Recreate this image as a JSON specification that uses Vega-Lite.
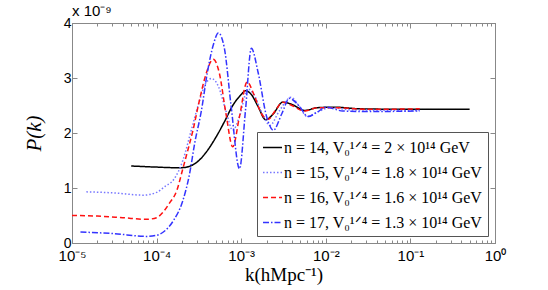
{
  "$schema": "https://vega.github.io/schema/vega-lite/v6.json",
  "width": 423,
  "height": 220,
  "autosize": "none",
  "padding": {"left": 72, "top": 23, "right": 53, "bottom": 47},
  "background": "white",
  "title": {"text": "x 10⁻⁹", "anchor": "start", "frame": "group", "fontSize": 15, "font": "Liberation Sans", "fontWeight": "normal", "offset": 0, "dy": 18, "color": "black", "baseline": "bottom"},
  "config": {
    "view": {"stroke": "#888888", "strokeWidth": 1},
    "axis": {"domainColor": "#888888", "tickColor": "#888888", "labelColor": "black", "labelFont": "Liberation Sans", "grid": false, "labelFlush": false}
  },
  "data": {"values": [
    {"k": 5.01e-5, "P": 1.40, "s": "n = 14, V₀¹ᐟ⁴ = 2 × 10¹⁴ GeV"},
    {"k": 1e-4, "P": 1.38, "s": "n = 14, V₀¹ᐟ⁴ = 2 × 10¹⁴ GeV"},
    {"k": 1.585e-4, "P": 1.37, "s": "n = 14, V₀¹ᐟ⁴ = 2 × 10¹⁴ GeV"},
    {"k": 1.995e-4, "P": 1.37, "s": "n = 14, V₀¹ᐟ⁴ = 2 × 10¹⁴ GeV"},
    {"k": 2.512e-4, "P": 1.40, "s": "n = 14, V₀¹ᐟ⁴ = 2 × 10¹⁴ GeV"},
    {"k": 3.162e-4, "P": 1.50, "s": "n = 14, V₀¹ᐟ⁴ = 2 × 10¹⁴ GeV"},
    {"k": 3.981e-4, "P": 1.68, "s": "n = 14, V₀¹ᐟ⁴ = 2 × 10¹⁴ GeV"},
    {"k": 5.012e-4, "P": 1.92, "s": "n = 14, V₀¹ᐟ⁴ = 2 × 10¹⁴ GeV"},
    {"k": 6.31e-4, "P": 2.20, "s": "n = 14, V₀¹ᐟ⁴ = 2 × 10¹⁴ GeV"},
    {"k": 7.943e-4, "P": 2.50, "s": "n = 14, V₀¹ᐟ⁴ = 2 × 10¹⁴ GeV"},
    {"k": 1e-3, "P": 2.70, "s": "n = 14, V₀¹ᐟ⁴ = 2 × 10¹⁴ GeV"},
    {"k": 1.122e-3, "P": 2.77, "s": "n = 14, V₀¹ᐟ⁴ = 2 × 10¹⁴ GeV"},
    {"k": 1.318e-3, "P": 2.70, "s": "n = 14, V₀¹ᐟ⁴ = 2 × 10¹⁴ GeV"},
    {"k": 1.585e-3, "P": 2.48, "s": "n = 14, V₀¹ᐟ⁴ = 2 × 10¹⁴ GeV"},
    {"k": 1.95e-3, "P": 2.24, "s": "n = 14, V₀¹ᐟ⁴ = 2 × 10¹⁴ GeV"},
    {"k": 2.399e-3, "P": 2.35, "s": "n = 14, V₀¹ᐟ⁴ = 2 × 10¹⁴ GeV"},
    {"k": 3.09e-3, "P": 2.56, "s": "n = 14, V₀¹ᐟ⁴ = 2 × 10¹⁴ GeV"},
    {"k": 3.981e-3, "P": 2.52, "s": "n = 14, V₀¹ᐟ⁴ = 2 × 10¹⁴ GeV"},
    {"k": 5.623e-3, "P": 2.41, "s": "n = 14, V₀¹ᐟ⁴ = 2 × 10¹⁴ GeV"},
    {"k": 7.943e-3, "P": 2.46, "s": "n = 14, V₀¹ᐟ⁴ = 2 × 10¹⁴ GeV"},
    {"k": 1.259e-2, "P": 2.47, "s": "n = 14, V₀¹ᐟ⁴ = 2 × 10¹⁴ GeV"},
    {"k": 2.512e-2, "P": 2.44, "s": "n = 14, V₀¹ᐟ⁴ = 2 × 10¹⁴ GeV"},
    {"k": 0.1, "P": 2.43, "s": "n = 14, V₀¹ᐟ⁴ = 2 × 10¹⁴ GeV"},
    {"k": 0.5012, "P": 2.43, "s": "n = 14, V₀¹ᐟ⁴ = 2 × 10¹⁴ GeV"},

    {"k": 1.479e-5, "P": 0.93, "s": "n = 15, V₀¹ᐟ⁴ = 1.8 × 10¹⁴ GeV"},
    {"k": 3.162e-5, "P": 0.91, "s": "n = 15, V₀¹ᐟ⁴ = 1.8 × 10¹⁴ GeV"},
    {"k": 6.918e-5, "P": 0.87, "s": "n = 15, V₀¹ᐟ⁴ = 1.8 × 10¹⁴ GeV"},
    {"k": 1e-4, "P": 0.92, "s": "n = 15, V₀¹ᐟ⁴ = 1.8 × 10¹⁴ GeV"},
    {"k": 1.259e-4, "P": 1.03, "s": "n = 15, V₀¹ᐟ⁴ = 1.8 × 10¹⁴ GeV"},
    {"k": 1.585e-4, "P": 1.15, "s": "n = 15, V₀¹ᐟ⁴ = 1.8 × 10¹⁴ GeV"},
    {"k": 2.042e-4, "P": 1.50, "s": "n = 15, V₀¹ᐟ⁴ = 1.8 × 10¹⁴ GeV"},
    {"k": 2.57e-4, "P": 2.05, "s": "n = 15, V₀¹ᐟ⁴ = 1.8 × 10¹⁴ GeV"},
    {"k": 3.162e-4, "P": 2.55, "s": "n = 15, V₀¹ᐟ⁴ = 1.8 × 10¹⁴ GeV"},
    {"k": 3.802e-4, "P": 2.90, "s": "n = 15, V₀¹ᐟ⁴ = 1.8 × 10¹⁴ GeV"},
    {"k": 4.467e-4, "P": 2.99, "s": "n = 15, V₀¹ᐟ⁴ = 1.8 × 10¹⁴ GeV"},
    {"k": 5.37e-4, "P": 2.85, "s": "n = 15, V₀¹ᐟ⁴ = 1.8 × 10¹⁴ GeV"},
    {"k": 6.607e-4, "P": 2.40, "s": "n = 15, V₀¹ᐟ⁴ = 1.8 × 10¹⁴ GeV"},
    {"k": 7.943e-4, "P": 2.05, "s": "n = 15, V₀¹ᐟ⁴ = 1.8 × 10¹⁴ GeV"},
    {"k": 9.55e-4, "P": 2.30, "s": "n = 15, V₀¹ᐟ⁴ = 1.8 × 10¹⁴ GeV"},
    {"k": 1.202e-3, "P": 2.80, "s": "n = 15, V₀¹ᐟ⁴ = 1.8 × 10¹⁴ GeV"},
    {"k": 1.413e-3, "P": 2.70, "s": "n = 15, V₀¹ᐟ⁴ = 1.8 × 10¹⁴ GeV"},
    {"k": 1.778e-3, "P": 2.35, "s": "n = 15, V₀¹ᐟ⁴ = 1.8 × 10¹⁴ GeV"},
    {"k": 2.188e-3, "P": 2.14, "s": "n = 15, V₀¹ᐟ⁴ = 1.8 × 10¹⁴ GeV"},
    {"k": 2.818e-3, "P": 2.40, "s": "n = 15, V₀¹ᐟ⁴ = 1.8 × 10¹⁴ GeV"},
    {"k": 3.89e-3, "P": 2.65, "s": "n = 15, V₀¹ᐟ⁴ = 1.8 × 10¹⁴ GeV"},
    {"k": 4.786e-3, "P": 2.50, "s": "n = 15, V₀¹ᐟ⁴ = 1.8 × 10¹⁴ GeV"},
    {"k": 6.026e-3, "P": 2.30, "s": "n = 15, V₀¹ᐟ⁴ = 1.8 × 10¹⁴ GeV"},
    {"k": 7.943e-3, "P": 2.38, "s": "n = 15, V₀¹ᐟ⁴ = 1.8 × 10¹⁴ GeV"},
    {"k": 1.122e-2, "P": 2.46, "s": "n = 15, V₀¹ᐟ⁴ = 1.8 × 10¹⁴ GeV"},
    {"k": 1.995e-2, "P": 2.42, "s": "n = 15, V₀¹ᐟ⁴ = 1.8 × 10¹⁴ GeV"},
    {"k": 0.1288, "P": 2.41, "s": "n = 15, V₀¹ᐟ⁴ = 1.8 × 10¹⁴ GeV"},

    {"k": 1e-5, "P": 0.50, "s": "n = 16, V₀¹ᐟ⁴ = 1.6 × 10¹⁴ GeV"},
    {"k": 2e-5, "P": 0.49, "s": "n = 16, V₀¹ᐟ⁴ = 1.6 × 10¹⁴ GeV"},
    {"k": 3.98e-5, "P": 0.46, "s": "n = 16, V₀¹ᐟ⁴ = 1.6 × 10¹⁴ GeV"},
    {"k": 7.59e-5, "P": 0.43, "s": "n = 16, V₀¹ᐟ⁴ = 1.6 × 10¹⁴ GeV"},
    {"k": 1e-4, "P": 0.46, "s": "n = 16, V₀¹ᐟ⁴ = 1.6 × 10¹⁴ GeV"},
    {"k": 1.175e-4, "P": 0.55, "s": "n = 16, V₀¹ᐟ⁴ = 1.6 × 10¹⁴ GeV"},
    {"k": 1.413e-4, "P": 0.72, "s": "n = 16, V₀¹ᐟ⁴ = 1.6 × 10¹⁴ GeV"},
    {"k": 1.738e-4, "P": 0.96, "s": "n = 16, V₀¹ᐟ⁴ = 1.6 × 10¹⁴ GeV"},
    {"k": 2.042e-4, "P": 1.35, "s": "n = 16, V₀¹ᐟ⁴ = 1.6 × 10¹⁴ GeV"},
    {"k": 2.399e-4, "P": 1.75, "s": "n = 16, V₀¹ᐟ⁴ = 1.6 × 10¹⁴ GeV"},
    {"k": 2.692e-4, "P": 2.05, "s": "n = 16, V₀¹ᐟ⁴ = 1.6 × 10¹⁴ GeV"},
    {"k": 3.162e-4, "P": 2.55, "s": "n = 16, V₀¹ᐟ⁴ = 1.6 × 10¹⁴ GeV"},
    {"k": 3.802e-4, "P": 3.05, "s": "n = 16, V₀¹ᐟ⁴ = 1.6 × 10¹⁴ GeV"},
    {"k": 4.677e-4, "P": 3.34, "s": "n = 16, V₀¹ᐟ⁴ = 1.6 × 10¹⁴ GeV"},
    {"k": 5.495e-4, "P": 3.10, "s": "n = 16, V₀¹ᐟ⁴ = 1.6 × 10¹⁴ GeV"},
    {"k": 6.607e-4, "P": 2.35, "s": "n = 16, V₀¹ᐟ⁴ = 1.6 × 10¹⁴ GeV"},
    {"k": 7.943e-4, "P": 1.75, "s": "n = 16, V₀¹ᐟ⁴ = 1.6 × 10¹⁴ GeV"},
    {"k": 9.55e-4, "P": 2.30, "s": "n = 16, V₀¹ᐟ⁴ = 1.6 × 10¹⁴ GeV"},
    {"k": 1.175e-3, "P": 2.93, "s": "n = 16, V₀¹ᐟ⁴ = 1.6 × 10¹⁴ GeV"},
    {"k": 1.413e-3, "P": 2.70, "s": "n = 16, V₀¹ᐟ⁴ = 1.6 × 10¹⁴ GeV"},
    {"k": 1.738e-3, "P": 2.35, "s": "n = 16, V₀¹ᐟ⁴ = 1.6 × 10¹⁴ GeV"},
    {"k": 2.089e-3, "P": 2.25, "s": "n = 16, V₀¹ᐟ⁴ = 1.6 × 10¹⁴ GeV"},
    {"k": 2.512e-3, "P": 2.40, "s": "n = 16, V₀¹ᐟ⁴ = 1.6 × 10¹⁴ GeV"},
    {"k": 3.09e-3, "P": 2.56, "s": "n = 16, V₀¹ᐟ⁴ = 1.6 × 10¹⁴ GeV"},
    {"k": 3.981e-3, "P": 2.50, "s": "n = 16, V₀¹ᐟ⁴ = 1.6 × 10¹⁴ GeV"},
    {"k": 5.623e-3, "P": 2.40, "s": "n = 16, V₀¹ᐟ⁴ = 1.6 × 10¹⁴ GeV"},
    {"k": 7.943e-3, "P": 2.46, "s": "n = 16, V₀¹ᐟ⁴ = 1.6 × 10¹⁴ GeV"},
    {"k": 1.259e-2, "P": 2.46, "s": "n = 16, V₀¹ᐟ⁴ = 1.6 × 10¹⁴ GeV"},
    {"k": 3.162e-2, "P": 2.43, "s": "n = 16, V₀¹ᐟ⁴ = 1.6 × 10¹⁴ GeV"},
    {"k": 0.1288, "P": 2.44, "s": "n = 16, V₀¹ᐟ⁴ = 1.6 × 10¹⁴ GeV"},

    {"k": 1.259e-5, "P": 0.20, "s": "n = 17, V₀¹ᐟ⁴ = 1.3 × 10¹⁴ GeV"},
    {"k": 3.162e-5, "P": 0.17, "s": "n = 17, V₀¹ᐟ⁴ = 1.3 × 10¹⁴ GeV"},
    {"k": 7.586e-5, "P": 0.12, "s": "n = 17, V₀¹ᐟ⁴ = 1.3 × 10¹⁴ GeV"},
    {"k": 1e-4, "P": 0.14, "s": "n = 17, V₀¹ᐟ⁴ = 1.3 × 10¹⁴ GeV"},
    {"k": 1.202e-4, "P": 0.20, "s": "n = 17, V₀¹ᐟ⁴ = 1.3 × 10¹⁴ GeV"},
    {"k": 1.585e-4, "P": 0.41, "s": "n = 17, V₀¹ᐟ⁴ = 1.3 × 10¹⁴ GeV"},
    {"k": 2.042e-4, "P": 0.77, "s": "n = 17, V₀¹ᐟ⁴ = 1.3 × 10¹⁴ GeV"},
    {"k": 2.455e-4, "P": 1.26, "s": "n = 17, V₀¹ᐟ⁴ = 1.3 × 10¹⁴ GeV"},
    {"k": 2.818e-4, "P": 1.81, "s": "n = 17, V₀¹ᐟ⁴ = 1.3 × 10¹⁴ GeV"},
    {"k": 3.388e-4, "P": 2.41, "s": "n = 17, V₀¹ᐟ⁴ = 1.3 × 10¹⁴ GeV"},
    {"k": 3.981e-4, "P": 3.10, "s": "n = 17, V₀¹ᐟ⁴ = 1.3 × 10¹⁴ GeV"},
    {"k": 4.677e-4, "P": 3.60, "s": "n = 17, V₀¹ᐟ⁴ = 1.3 × 10¹⁴ GeV"},
    {"k": 5.37e-4, "P": 3.82, "s": "n = 17, V₀¹ᐟ⁴ = 1.3 × 10¹⁴ GeV"},
    {"k": 6.31e-4, "P": 3.55, "s": "n = 17, V₀¹ᐟ⁴ = 1.3 × 10¹⁴ GeV"},
    {"k": 7.586e-4, "P": 2.50, "s": "n = 17, V₀¹ᐟ⁴ = 1.3 × 10¹⁴ GeV"},
    {"k": 9.55e-4, "P": 1.35, "s": "n = 17, V₀¹ᐟ⁴ = 1.3 × 10¹⁴ GeV"},
    {"k": 1.122e-3, "P": 2.40, "s": "n = 17, V₀¹ᐟ⁴ = 1.3 × 10¹⁴ GeV"},
    {"k": 1.318e-3, "P": 3.54, "s": "n = 17, V₀¹ᐟ⁴ = 1.3 × 10¹⁴ GeV"},
    {"k": 1.585e-3, "P": 3.10, "s": "n = 17, V₀¹ᐟ⁴ = 1.3 × 10¹⁴ GeV"},
    {"k": 1.995e-3, "P": 2.30, "s": "n = 17, V₀¹ᐟ⁴ = 1.3 × 10¹⁴ GeV"},
    {"k": 2.399e-3, "P": 2.05, "s": "n = 17, V₀¹ᐟ⁴ = 1.3 × 10¹⁴ GeV"},
    {"k": 3.02e-3, "P": 2.35, "s": "n = 17, V₀¹ᐟ⁴ = 1.3 × 10¹⁴ GeV"},
    {"k": 3.715e-3, "P": 2.63, "s": "n = 17, V₀¹ᐟ⁴ = 1.3 × 10¹⁴ GeV"},
    {"k": 4.786e-3, "P": 2.50, "s": "n = 17, V₀¹ᐟ⁴ = 1.3 × 10¹⁴ GeV"},
    {"k": 6.166e-3, "P": 2.30, "s": "n = 17, V₀¹ᐟ⁴ = 1.3 × 10¹⁴ GeV"},
    {"k": 7.943e-3, "P": 2.38, "s": "n = 17, V₀¹ᐟ⁴ = 1.3 × 10¹⁴ GeV"},
    {"k": 1e-2, "P": 2.47, "s": "n = 17, V₀¹ᐟ⁴ = 1.3 × 10¹⁴ GeV"},
    {"k": 1.585e-2, "P": 2.40, "s": "n = 17, V₀¹ᐟ⁴ = 1.3 × 10¹⁴ GeV"},
    {"k": 3.162e-2, "P": 2.39, "s": "n = 17, V₀¹ᐟ⁴ = 1.3 × 10¹⁴ GeV"},
    {"k": 0.1288, "P": 2.40, "s": "n = 17, V₀¹ᐟ⁴ = 1.3 × 10¹⁴ GeV"}
  ]},
  "layer": [
    {
      "mark": {"type": "line", "interpolate": "monotone", "strokeWidth": 1.5, "clip": true},
      "encoding": {
        "x": {"field": "k", "type": "quantitative",
          "scale": {"type": "log", "domain": [1e-5, 1], "nice": false},
          "axis": {"orient": "bottom", "title": "k(hMpc⁻¹)", "titleFont": "Liberation Serif", "titleFontSize": 19, "titleFontWeight": "normal", "titlePadding": 0,
            "values": [1e-5,2e-5,3e-5,4e-5,5e-5,6e-5,7e-5,8e-5,9e-5,1e-4,2e-4,3e-4,4e-4,5e-4,6e-4,7e-4,8e-4,9e-4,1e-3,2e-3,3e-3,4e-3,5e-3,6e-3,7e-3,8e-3,9e-3,1e-2,2e-2,3e-2,4e-2,5e-2,6e-2,7e-2,8e-2,9e-2,0.1,0.2,0.3,0.4,0.5,0.6,0.7,0.8,0.9,1],
            "labelExpr": "abs(log(datum.value)/LN10 - round(log(datum.value)/LN10)) < 0.001 ? ['10⁻⁵','10⁻⁴','10⁻³','10⁻²','10⁻¹','10⁰'][round(log(datum.value)/LN10)+5] : ''",
            "labelFontSize": 15, "labelPadding": 10,
            "tickSize": {"condition": {"test": "abs(log(datum.value)/LN10 - round(log(datum.value)/LN10)) < 0.001", "value": -5}, "value": -3},
            "labelOverlap": false}},
        "y": {"field": "P", "type": "quantitative",
          "scale": {"domain": [0, 4], "nice": false},
          "axis": {"orient": "left", "title": "P(k)", "titleFont": "Liberation Serif", "titleFontStyle": "italic", "titleFontSize": 21, "titleFontWeight": "normal", "titlePadding": 19,
            "values": [0,1,2,3,4], "labelFontSize": 14, "tickSize": -5, "labelPadding": 6}},
        "color": {"field": "s", "type": "nominal",
          "scale": {"range": ["#000000", "#7777ff", "#ff1111", "#3333ff"]},
          "legend": {"title": null, "orient": "bottom-right", "offset": 7, "symbolType": "stroke", "symbolSize": 360, "symbolStrokeWidth": 1.4,
            "labelFont": "Liberation Serif", "labelFontSize": 16, "labelColor": "black", "labelLimit": 400, "rowPadding": 6,
            "strokeColor": "#555555", "fillColor": "white", "padding": 5, "symbolOffset": 0, "labelOffset": 1}},
        "strokeDash": {"field": "s", "type": "nominal",
          "scale": {"range": [[1, 0], [1.5, 2], [5, 3], [6, 2, 1.5, 2]]},
          "legend": null}
      }
    },
    {
      "mark": {"type": "point", "opacity": 0},
      "encoding": {
        "x": {"field": "k", "type": "quantitative",
          "scale": {"type": "log", "domain": [1e-5, 1], "nice": false},
          "axis": {"orient": "top", "title": null, "labels": false,
            "values": [1e-5,2e-5,3e-5,4e-5,5e-5,6e-5,7e-5,8e-5,9e-5,1e-4,2e-4,3e-4,4e-4,5e-4,6e-4,7e-4,8e-4,9e-4,1e-3,2e-3,3e-3,4e-3,5e-3,6e-3,7e-3,8e-3,9e-3,1e-2,2e-2,3e-2,4e-2,5e-2,6e-2,7e-2,8e-2,9e-2,0.1,0.2,0.3,0.4,0.5,0.6,0.7,0.8,0.9,1],
            "tickSize": {"condition": {"test": "abs(log(datum.value)/LN10 - round(log(datum.value)/LN10)) < 0.001", "value": -5}, "value": -3}}},
        "y": {"field": "P", "type": "quantitative",
          "scale": {"domain": [0, 4], "nice": false},
          "axis": {"orient": "right", "title": null, "labels": false, "values": [0,1,2,3,4], "tickSize": -5}}
      }
    }
  ],
  "resolve": {"axis": {"x": "independent", "y": "independent"}}
}
